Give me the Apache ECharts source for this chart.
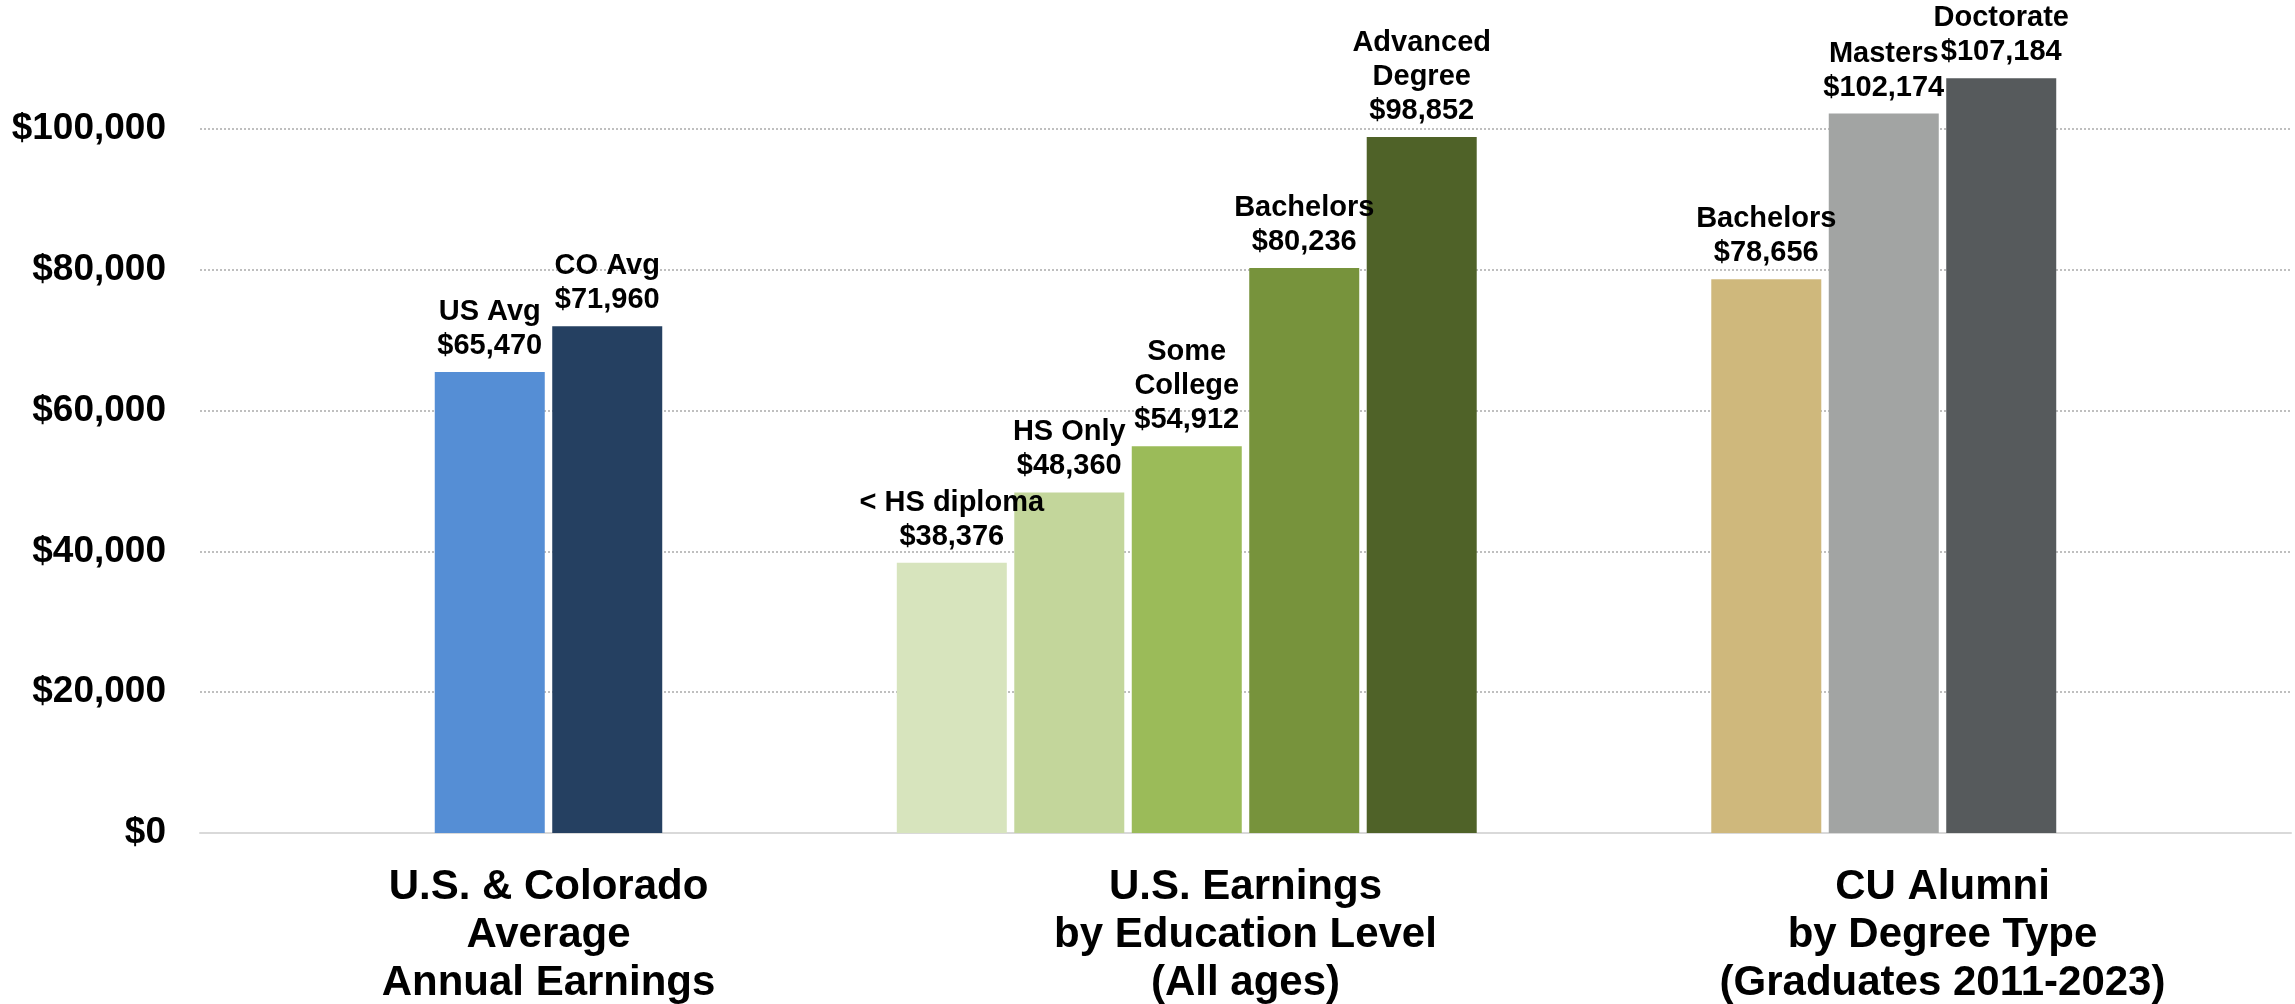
<!DOCTYPE html>
<html>
<head>
<meta charset="utf-8">
<script src="https://cdn.jsdelivr.net/npm/echarts@6/dist/echarts.min.js"></script>
<style>
  html, body { margin: 0; padding: 0; background: #fff; }
  #chart { width: 2295px; height: 1004px; }
</style>
</head>
<body>
<div id="chart"></div>
<script>
// 分组柱状图 — earnings by group
const categories = [
  "U.S. & Colorado\nAverage\nAnnual Earnings",
  "U.S. Earnings\nby Education Level\n(All ages)",
  "CU Alumni\nby Degree Type\n(Graduates 2011-2023)",
];

const avgNames = ["US Avg", "CO Avg"];
const avgValues = [65470, 71960];

const eduNames = ["< HS diploma", "HS Only", "Some\nCollege", "Bachelors", "Advanced\nDegree"];
const eduValues = [38376, 48360, 54912, 80236, 98852];

const cuNames = ["Bachelors", "Masters", "Doctorate"];
const cuValues = [78656, 102174, 107184];

const yTicks = [0, 20000, 40000, 60000, 80000, 100000];

// colours per bar
const avgColors = ["#558ED5", "#254061"];
const eduColors = ["#D7E4BD", "#C3D69B", "#9BBB59", "#77933C", "#4F6228"];
const cuColors = ["#CFB87C", "#A2A4A3", "#565A5C"];

// each group sits in a 6-slot cluster, starting at a given slot
const groups = [
  { names: avgNames, values: avgValues, colors: avgColors, start: 2 },
  { names: eduNames, values: eduValues, colors: eduColors, start: 0 },
  { names: cuNames, values: cuValues, colors: cuColors, start: 1 },
];
const slots = 6;

const money = (v) => "$" + v.toLocaleString("en-US");
const font = "'Liberation Sans', Arial, sans-serif";

const series = [];
for (let s = 0; s < slots; s++) {
  const data = groups.map((g) => {
    const i = s - g.start;
    if (i < 0 || i >= g.values.length) return "-";
    return {
      value: g.values[i],
      itemStyle: { color: g.colors[i] },
      label: { formatter: g.names[i] + "\n" + money(g.values[i]) },
    };
  });
  series.push({
    type: "bar",
    barWidth: 110,
    barGap: "6.8%",
    data: data,
    label: {
      show: true,
      position: "top",
      distance: 9,
      color: "#000",
      fontFamily: font,
      fontWeight: "bold",
      fontSize: 29,
      lineHeight: 34,
    },
  });
}

const myChart = echarts.init(document.getElementById("chart"));
myChart.setOption({
  animation: false,
  backgroundColor: "#fff",
  grid: {
    left: 200,
    right: 4,
    top: 0,
    bottom: 171,
    containLabel: false,
    outerBoundsMode: "none",
  },
  xAxis: {
    type: "category",
    data: categories,
    axisTick: { show: false },
    axisLine: { lineStyle: { color: "#D9D9D9", width: 2 } },
    axisLabel: {
      interval: 0,
      margin: 30,
      color: "#000",
      fontFamily: font,
      fontWeight: "bold",
      fontSize: 42,
      lineHeight: 48,
    },
  },
  yAxis: {
    type: "value",
    min: yTicks[0],
    max: 118300,
    interval: 20000,
    axisLine: { show: false },
    axisTick: { show: false },
    splitLine: {
      show: true,
      showMaxLine: false,
      lineStyle: { color: "#BFBFBF", type: "dotted", width: 2 },
    },
    axisLabel: {
      margin: 34,
      showMaxLabel: false,
      color: "#000",
      fontFamily: font,
      fontWeight: "bold",
      fontSize: 37,
      formatter: (v) => (yTicks.indexOf(v) >= 0 ? money(v) : ""),
    },
  },
  series: series,
});
</script>
</body>
</html>
